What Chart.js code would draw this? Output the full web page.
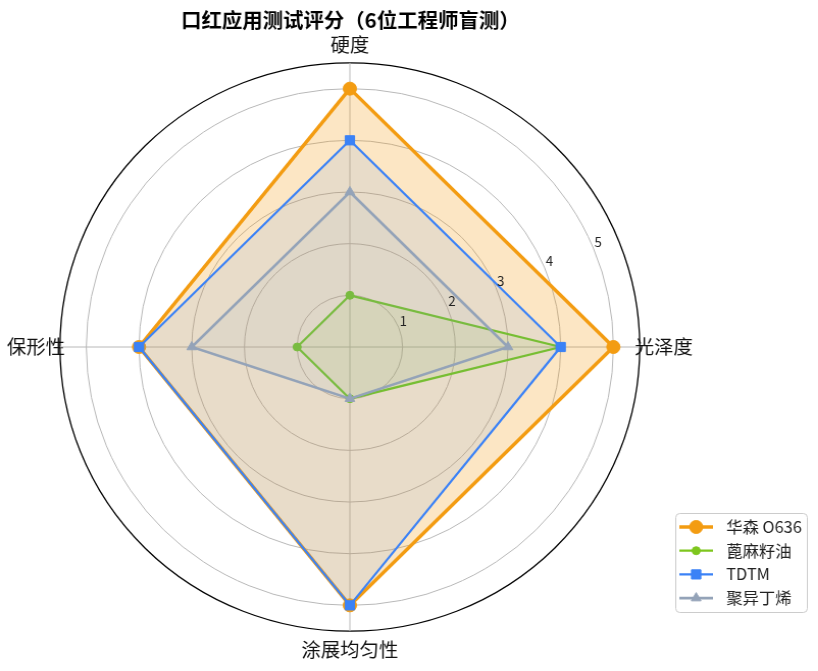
<!DOCTYPE html>
<html>
<head>
<meta charset="utf-8">
<script src="https://cdn.jsdelivr.net/npm/chart.js@4/dist/chart.umd.min.js"></script>
<style>
  html, body { margin: 0; padding: 0; background: #fff; overflow: hidden; }
  /* the reference polar axes is a little wider than tall */
  #wrap { width: 802px; height: 671px; transform: scaleX(1.02); transform-origin: 0 0; }
</style>
</head>
<body>
<div id="wrap"><canvas id="myChart" width="802" height="671"></canvas></div>
<script>
const AXES = ["硬度", "光泽度", "涂展均匀性", "保形性"];
const SERIES_NAMES = ["华森 O636", "蓖麻籽油", "TDTM", "聚异丁烯"];
const HUASEN = [5, 5, 5, 4];
const CASTOR = [1, 4, 1, 1];
const TDTM = [4, 4, 5, 4];
const PIB = [3, 3, 1, 3];
const TICK_VALUES = [1, 2, 3, 4, 5];
const R_MAX = 5.5;

const FONT = "'Noto Sans CJK SC', 'Noto Sans', sans-serif";

const makeSet = (label, data, color, fill, width, style, radius, order) => ({
  label,
  data,
  order,
  borderColor: color,
  backgroundColor: fill,
  borderWidth: width,
  fill: true,
  tension: 0,
  pointStyle: style,
  pointRadius: radius,
  pointHoverRadius: radius,
  pointBackgroundColor: color,
  pointBorderColor: color,
  pointBorderWidth: 1,
});

// draws a marker like chart.js does, for the legend
const drawMarker = (ctx, style, r, x, y) => {
  ctx.beginPath();
  if (style === "circle") {
    ctx.arc(x, y, r, 0, Math.PI * 2);
  } else if (style === "rect") {
    const s = Math.SQRT1_2 * r;
    ctx.rect(x - s, y - s, 2 * s, 2 * s);
  } else if (style === "triangle") {
    for (let i = 0; i < 3; i++) {
      const a = (i * 2 * Math.PI) / 3;
      const px = x + Math.sin(a) * r;
      const py = y - Math.cos(a) * r;
      i === 0 ? ctx.moveTo(px, py) : ctx.lineTo(px, py);
    }
    ctx.closePath();
  }
  ctx.fill();
  ctx.stroke();
};

const rTickLabels = {
  id: "rTickLabels",
  afterDatasetsDraw(chart) {
    const scale = chart.scales.r;
    const ctx = chart.ctx;
    const a = (22.5 * Math.PI) / 180;
    ctx.save();
    ctx.font = `13px ${FONT}`;
    ctx.fillStyle = "#222";
    ctx.textAlign = "left";
    ctx.textBaseline = "bottom";
    TICK_VALUES.forEach((v) => {
      const d = scale.getDistanceFromCenterForValue(v);
      ctx.fillText(String(v), scale.xCenter + Math.cos(a) * d + 1, scale.yCenter - Math.sin(a) * d);
    });
    ctx.restore();
  },
};

const boxLegend = {
  id: "boxLegend",
  afterDraw(chart) {
    const ctx = chart.ctx;
    const sets = chart.data.datasets;
    const x0 = 662, y0 = 513, w = 129, h = 99;
    ctx.save();
    ctx.fillStyle = "rgba(255,255,255,0.85)";
    ctx.strokeStyle = "#cccccc";
    ctx.lineWidth = 1;
    ctx.beginPath();
    ctx.roundRect(x0 + 0.5, y0 + 0.5, w, h, 4);
    ctx.fill();
    ctx.stroke();
    ctx.font = `16px ${FONT}`;
    ctx.textAlign = "left";
    ctx.textBaseline = "middle";
    sets.forEach((ds, i) => {
      const y = y0 + 14 + i * 23.7;
      ctx.strokeStyle = ds.borderColor;
      ctx.fillStyle = ds.borderColor;
      ctx.lineWidth = ds.borderWidth;
      ctx.beginPath();
      ctx.moveTo(666, y);
      ctx.lineTo(699, y);
      ctx.stroke();
      ctx.lineWidth = 1;
      drawMarker(ctx, ds.pointStyle, ds.pointRadius, 682.5, y);
      ctx.fillStyle = "#222";
      ctx.fillText(ds.label, 712, y);
    });
    ctx.restore();
  },
};

const ctx = document.querySelector("canvas#myChart").getContext("2d");
const myChart = new Chart(ctx, {
  type: "radar",
  data: {
    labels: AXES,
    datasets: [
      makeSet(SERIES_NAMES[0], HUASEN, "#f39c12", "rgba(243,156,18,0.25)", 3.5, "circle", 6.5, 4),
      makeSet(SERIES_NAMES[1], CASTOR, "#7ec61e", "rgba(126,198,30,0.10)", 2.2, "circle", 4, 3),
      makeSet(SERIES_NAMES[2], TDTM, "#3b82f6", "rgba(59,130,246,0.10)", 2.2, "rect", 6.5, 2),
      makeSet(SERIES_NAMES[3], PIB, "#94a3b8", "rgba(148,163,184,0.10)", 2.6, "triangle", 5.5, 1),
    ],
  },
  options: {
    responsive: false,
    animation: false,
    events: [],
    layout: { padding: { left: 0, right: 115, top: 0, bottom: 9 } },
    plugins: {
      legend: { display: false },
      tooltip: { enabled: false },
      title: {
        display: true,
        text: "口红应用测试评分（6位工程师盲测）",
        color: "#000",
        font: { family: FONT, size: 20, weight: "bold", lineHeight: 1.15 },
        padding: { top: 9, bottom: 1 },
      },
    },
    scales: {
      r: {
        min: 0,
        max: R_MAX,
        afterBuildTicks: (scale) => {
          scale.ticks = [0, ...TICK_VALUES, R_MAX].map((v) => ({ value: v }));
        },
        ticks: { display: false },
        grid: {
          circular: true,
          color: (c) => (c.tick && c.tick.value === R_MAX ? "#000" : "#b8b8b8"),
          lineWidth: (c) => (c.tick && c.tick.value === R_MAX ? 1.3 : 1),
        },
        angleLines: { color: "#b8b8b8", lineWidth: 1 },
        pointLabels: {
          color: "#111",
          font: { family: FONT, size: 19 },
          padding: (c) => (c.index % 2 === 0 ? 7 : -5),
        },
      },
    },
  },
  plugins: [rTickLabels, boxLegend],
});
</script>
</body>
</html>
